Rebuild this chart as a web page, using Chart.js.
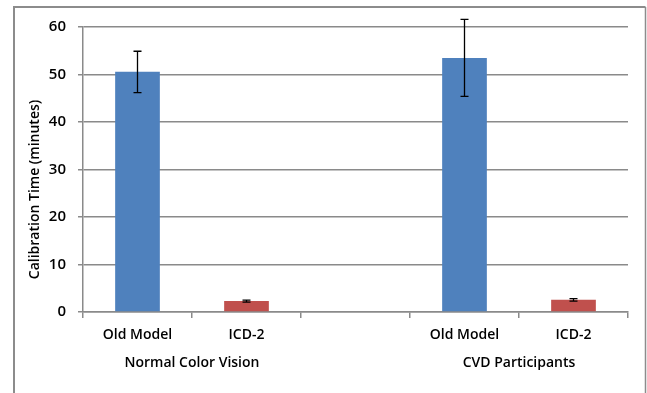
<!DOCTYPE html>
<html>
<head>
<meta charset="utf-8">
<script src="https://cdn.jsdelivr.net/npm/chart.js@4/dist/chart.umd.min.js"></script>
<style>
  html,body{margin:0;padding:0;background:#fff;}
  #wrap{width:647px;height:393px;position:relative;}
</style>
</head>
<body>
<div id="wrap"><canvas id="c" width="647" height="393"></canvas></div>
<script>
// ---- data ----
const categories = ["Old Model", "ICD-2", "", "Old Model", "ICD-2"];
const calibrationTime = [50.6, 2.3, null, 53.5, 2.6];
const errorPlus = [4.3, 0.2, null, 8.1, 0.2];
const errorMinus = [4.4, 0.2, null, 8.1, 0.3];
const groupLabels = ["Normal Color Vision", "CVD Participants"];
const groupMembers = [[0, 1], [3, 4]];
const yTicks = [0, 10, 20, 30, 40, 50, 60];
const barColors = ["#4F81BD", "#C0504D", "#4F81BD", "#4F81BD", "#C0504D"];

const FONT = "'Open Sans', Lato, 'Liberation Sans', sans-serif";
const WEIGHT = "600";
const GRID = "#8a8a8a";
const TXT = "#000";

const decorPlugin = {
  id: "decor",
  beforeDraw(chart) {
    const ctx = chart.ctx;
    ctx.save();
    ctx.fillStyle = "#fff";
    ctx.fillRect(0, 0, chart.width, chart.height);
    ctx.strokeStyle = "#8c8c8c";
    ctx.lineWidth = 2;
    ctx.beginPath();
    ctx.moveTo(14, 393);
    ctx.lineTo(14, 7);
    ctx.lineTo(645.5, 7);
    ctx.stroke();
    ctx.lineWidth = 1.5;
    ctx.beginPath();
    ctx.moveTo(645.5, 7);
    ctx.lineTo(645.5, 393);
    ctx.stroke();
    ctx.restore();
  },
  afterDatasetsDraw(chart) {
    const ctx = chart.ctx;
    const x = chart.scales.x, y = chart.scales.y;
    ctx.save();
    ctx.strokeStyle = "#000";
    ctx.lineWidth = 1.3;
    calibrationTime.forEach((v, i) => {
      if (v === null) return;
      const px = x.getPixelForValue(i);
      const top = y.getPixelForValue(v + errorPlus[i]);
      const bot = y.getPixelForValue(v - errorMinus[i]);
      ctx.beginPath();
      ctx.moveTo(px, top); ctx.lineTo(px, bot);
      ctx.moveTo(px - 4, top); ctx.lineTo(px + 4, top);
      ctx.moveTo(px - 4, bot); ctx.lineTo(px + 4, bot);
      ctx.stroke();
    });
    // group labels
    ctx.fillStyle = TXT;
    ctx.font = WEIGHT + " 14px " + FONT;
    ctx.textAlign = "center";
    ctx.textBaseline = "middle";
    groupLabels.forEach((g, k) => {
      const m = groupMembers[k];
      const cx = (x.getPixelForValue(m[0]) + x.getPixelForValue(m[m.length - 1])) / 2;
      ctx.fillText(g, cx, 363);
    });
    // y title
    ctx.translate(35, (y.top + y.bottom) / 2 + 20);
    ctx.rotate(-Math.PI / 2);
    ctx.fillText("Calibration Time (minutes)", 0, 0);
    ctx.restore();
  }
};

new Chart(document.getElementById("c"), {
  type: "bar",
  data: {
    labels: categories,
    datasets: [{
      data: calibrationTime,
      backgroundColor: barColors,
      borderWidth: 0,
      categoryPercentage: 1,
      barPercentage: 0.41
    }]
  },
  options: {
    responsive: false,
    animation: false,
    devicePixelRatio: 1,
    layout: { padding: { left: 0, right: 19, top: 27, bottom: 0 } },
    plugins: { legend: { display: false }, tooltip: { enabled: false } },
    scales: {
      x: {
        grid: { offset: true, drawOnChartArea: false, drawTicks: true, tickLength: 6, color: GRID, lineWidth: 1.5 },
        border: { color: GRID, width: 1.5 },
        ticks: { color: TXT, font: { family: FONT, size: 14, weight: WEIGHT }, padding: 9, maxRotation: 0 },
        afterFit(s) { s.height = 81; }
      },
      y: {
        min: 0, max: 60,
        afterBuildTicks(s) { s.ticks = yTicks.map(v => ({ value: v })); },
        grid: { color: GRID, lineWidth: 1.5, tickLength: 5 },
        border: { color: GRID, width: 1.5 },
        ticks: { color: TXT, font: { family: FONT, size: 15, weight: WEIGHT }, padding: 12 },
        afterFit(s) { s.width = 83; }
      }
    }
  },
  plugins: [decorPlugin]
});
</script>
</body>
</html>
